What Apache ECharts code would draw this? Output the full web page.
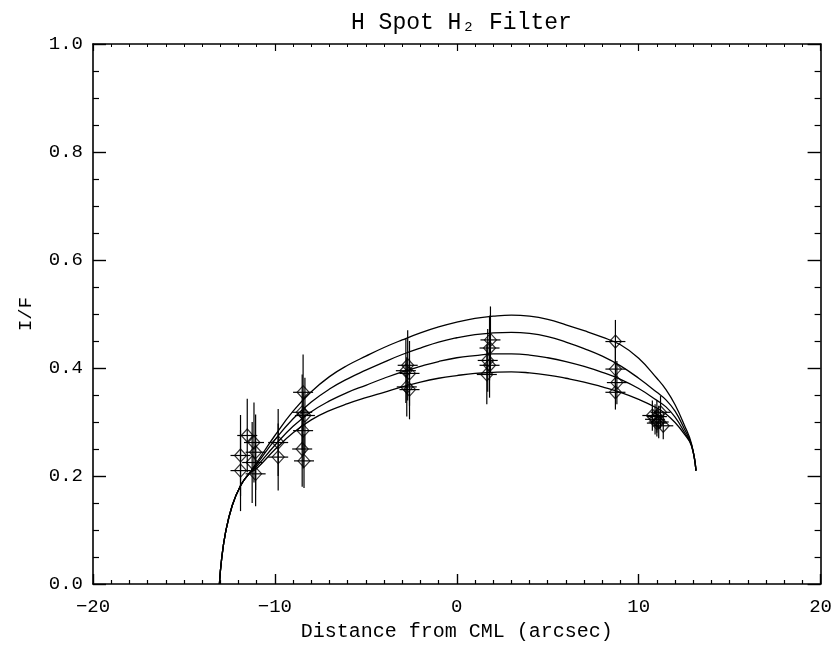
<!DOCTYPE html>
<html>
<head>
<meta charset="utf-8">
<script src="https://cdn.jsdelivr.net/npm/echarts@6/dist/echarts.min.js"></script>
<style>
  html, body { margin: 0; padding: 0; background: #fff; }
  #chart { width: 835px; height: 647px; }
</style>
</head>
<body>
<div id="chart"></div>
<script>
// model curves, shared x grid
const curveX = [-13.05, -12.93, -12.71, -12.35, -11.89, -11.43, -11, -10, -9, -8, -7, -6, -5, -4, -3, -2, -1,
  0, 1, 2, 3, 4, 5, 6, 7, 8, 9, 10, 11, 11.5, 12, 12.5, 12.9, 13.15]
const curve1 = [0, 0.046, 0.096, 0.145, 0.182, 0.204, 0.225, 0.275, 0.320, 0.356, 0.384, 0.405, 0.422, 0.438, 0.452, 0.465, 0.476,
  0.485, 0.492, 0.496, 0.498, 0.496, 0.490, 0.480, 0.469, 0.457, 0.443, 0.418, 0.381, 0.360, 0.332, 0.295, 0.260, 0.21]
const curve2 = [0, 0.046, 0.096, 0.145, 0.182, 0.204, 0.222, 0.267, 0.306, 0.337, 0.361, 0.380, 0.396, 0.411, 0.425, 0.437, 0.448,
  0.456, 0.462, 0.465, 0.466, 0.464, 0.458, 0.448, 0.436, 0.422, 0.404, 0.381, 0.355, 0.341, 0.320, 0.288, 0.258, 0.21]
const curve3 = [0, 0.046, 0.096, 0.145, 0.182, 0.204, 0.218, 0.257, 0.292, 0.319, 0.339, 0.355, 0.368, 0.381, 0.393, 0.403, 0.412,
  0.419, 0.423, 0.426, 0.426, 0.424, 0.419, 0.412, 0.403, 0.392, 0.379, 0.362, 0.340, 0.328, 0.309, 0.282, 0.257, 0.21]
const curve4 = [0, 0.046, 0.096, 0.145, 0.182, 0.204, 0.214, 0.249, 0.280, 0.304, 0.321, 0.334, 0.345, 0.355, 0.365, 0.374, 0.381,
  0.386, 0.390, 0.392, 0.393, 0.391, 0.387, 0.381, 0.374, 0.365, 0.355, 0.342, 0.326, 0.315, 0.299, 0.278, 0.256, 0.21]

// measured points: position, I/F and half error in I/F
const pointX = [-11.89, -11.89, -11.52, -11.15, -11.06, -11.25, -11.06, -9.82, -9.82,
  -8.45, -8.5, -8.35, -8.45, -8.5, -8.4,
  -2.7, -2.8, -2.6, -2.75, -2.6,
  1.85, 1.8, 1.7, 1.8, 1.65,
  8.72, 8.72, 8.8, 8.72,
  10.75, 10.9, 11.0, 11.1, 11.0, 11.2, 11.35]
const pointY = [0.238, 0.210, 0.275, 0.262, 0.244, 0.225, 0.204, 0.262, 0.235,
  0.355, 0.318, 0.312, 0.284, 0.250, 0.228,
  0.405, 0.395, 0.390, 0.365, 0.360,
  0.452, 0.437, 0.414, 0.405, 0.388,
  0.449, 0.398, 0.373, 0.355,
  0.312, 0.305, 0.310, 0.300, 0.298, 0.318, 0.293]
const pointErr = [0.075, 0.075, 0.068, 0.074, 0.07, 0.075, 0.06, 0.062, 0.062,
  0.07, 0.07, 0.07, 0.07, 0.07, 0.05,
  0.065, 0.06, 0.06, 0.055, 0.055,
  0.062, 0.06, 0.058, 0.06, 0.055,
  0.04, 0.04, 0.04, 0.032,
  0.028, 0.028, 0.03, 0.03, 0.025, 0.03, 0.025]
const xErr = 0.55

const xTicks = { min: -20, max: 20, step: 10 }
const yTicks = { min: 0, max: 1, step: 0.2 }

const chart = echarts.init(document.getElementById('chart'))

const lineFor = (ys) => ({
  type: 'line',
  data: curveX.map((x, i) => [x, ys[i]]),
  showSymbol: false,
  smooth: 0.45,
  lineStyle: { color: '#000', width: 1.3 },
  silent: true,
  z: 2
})

const pts = pointX.map((x, i) => [x, pointY[i], pointErr[i], xErr])

const renderErr = (params, api) => {
  const x = api.value(0), y = api.value(1), ey = api.value(2), ex = api.value(3)
  const t = api.coord([x, y + ey]), b = api.coord([x, y - ey])
  const l = api.coord([x - ex, y]), r = api.coord([x + ex, y])
  const st = { stroke: '#000', lineWidth: 1.2 }
  return {
    type: 'group',
    children: [
      { type: 'line', shape: { x1: t[0], y1: t[1], x2: b[0], y2: b[1] }, style: st },
      { type: 'line', shape: { x1: l[0], y1: l[1], x2: r[0], y2: r[1] }, style: st }
    ]
  }
}

const font = '"Liberation Mono", monospace'
const axisBase = {
  axisLine: { show: true, onZero: false, lineStyle: { color: '#000', width: 1.6 } },
  splitLine: { show: false }
}

const option = {
  backgroundColor: '#fff',
  animation: false,
  title: {
    text: 'H Spot H₂ Filter',
    left: 351,
    top: 11,
    padding: 0,
    textStyle: { fontFamily: font, fontSize: 23, fontWeight: 'normal', color: '#000' }
  },
  grid: { left: 93, right: 13, top: 44, bottom: 62 },
  xAxis: [
    {
      ...axisBase,
      type: 'value', position: 'bottom',
      min: xTicks.min, max: xTicks.max, interval: xTicks.step,
      name: 'Distance from CML (arcsec)', nameLocation: 'middle', nameGap: 38,
      nameTextStyle: { fontFamily: font, fontSize: 20, color: '#000' },
      axisTick: { inside: true, length: 10, lineStyle: { color: '#000', width: 1.4 } },
      minorTick: { show: true, splitNumber: 10, length: 4, lineStyle: { color: '#000', width: 1.2 } },
      axisLabel: {
        margin: 13, fontFamily: font, fontSize: 19, color: '#000',
        formatter: v => String(v).replace('-', '−')
      }
    },
    {
      ...axisBase,
      type: 'value', position: 'top',
      min: xTicks.min, max: xTicks.max, interval: xTicks.step,
      axisTick: { inside: true, length: 7, lineStyle: { color: '#000', width: 1.2 } },
      minorTick: { show: true, splitNumber: 10, length: 3, lineStyle: { color: '#000', width: 1 } },
      axisLabel: { show: false }
    }
  ],
  yAxis: [
    {
      ...axisBase,
      type: 'value', position: 'left',
      min: yTicks.min, max: yTicks.max, interval: yTicks.step,
      name: 'I/F', nameLocation: 'middle', nameGap: 58, nameRotate: 90,
      nameTextStyle: { fontFamily: font, fontSize: 19, color: '#000' },
      axisTick: { inside: true, length: 13, lineStyle: { color: '#000', width: 1.4 } },
      minorTick: { show: true, splitNumber: 4, length: 6, lineStyle: { color: '#000', width: 1.2 } },
      axisLabel: {
        margin: 10, fontFamily: font, fontSize: 19, color: '#000',
        formatter: v => v.toFixed(1)
      }
    },
    {
      ...axisBase,
      type: 'value', position: 'right',
      min: yTicks.min, max: yTicks.max, interval: yTicks.step,
      axisTick: { inside: true, length: 13, lineStyle: { color: '#000', width: 1.4 } },
      minorTick: { show: true, splitNumber: 4, length: 6, lineStyle: { color: '#000', width: 1.2 } },
      axisLabel: { show: false }
    }
  ],
  series: [
    lineFor(curve1),
    lineFor(curve2),
    lineFor(curve3),
    lineFor(curve4),
    {
      type: 'custom',
      data: pts,
      encode: { x: 0, y: 1 },
      renderItem: renderErr,
      silent: true,
      z: 3
    },
    {
      type: 'scatter',
      data: pts,
      symbol: 'diamond',
      symbolSize: [12, 13],
      itemStyle: { color: 'rgba(0,0,0,0)', borderColor: '#000', borderWidth: 1.2 },
      silent: true,
      z: 4
    }
  ]
}

chart.setOption(option)
</script>
</body>
</html>
